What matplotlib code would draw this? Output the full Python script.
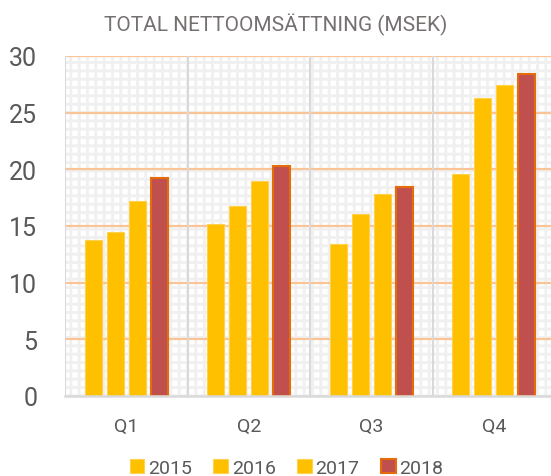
import matplotlib
matplotlib.use("Agg")
import matplotlib.pyplot as plt
import matplotlib.patches as patches
import numpy as np

quarters = ["Q1", "Q2", "Q3", "Q4"]
years = ["2015", "2016", "2017", "2018"]
sales_2015 = [13.8, 15.2, 13.4, 19.6]
sales_2016 = [14.5, 16.8, 16.1, 26.3]
sales_2017 = [17.2, 19.0, 17.8, 27.4]
sales_2018 = [19.2, 20.3, 18.4, 28.4]

plt.rcParams['font.family'] = ['Roboto', 'DejaVu Sans']
plt.rcParams['hatch.linewidth'] = 2.0
plt.rcParams['hatch.color'] = '#f0f0f0'

fig = plt.figure(figsize=(5.51, 4.77), dpi=100)
ax = fig.add_axes([65 / 551, 80 / 477, 490 / 551, 340 / 477])

# patterned plot background (large grid)
bg = patches.Rectangle((0, 0), 1, 1, transform=ax.transAxes, facecolor='white',
                       edgecolor='#f0f0f0', hatch='++', lw=0, zorder=0)
ax.add_patch(bg)

x = np.arange(len(quarters))
width = 0.139
pitch = 0.18
series = [sales_2015, sales_2016, sales_2017, sales_2018]
faces = ['#FFC000', '#FFC000', '#FFC000', '#C0504D']
edges = ['#FFD24D', '#FFD24D', '#FFD24D', '#E46C0A']
lws = [0.8, 0.8, 0.8, 1.5]
for i, (vals, yr) in enumerate(zip(series, years)):
    ax.bar(x + (i - 1.5) * pitch, vals, width, color=faces[i], edgecolor=edges[i],
           linewidth=lws[i], label=yr, zorder=3)

ax.set_xlim(-0.5, 3.5)
ax.set_ylim(0, 30)
ax.set_yticks(range(0, 31, 5))
for yv in range(5, 31, 5):
    ax.axhline(yv, color='#FBC497', lw=1.6, zorder=2)
for xv in np.arange(-0.5, 4, 1):
    ax.axvline(xv, color='#d9d9d9', lw=1.5, zorder=2)

for s in ['top', 'right', 'left']:
    ax.spines[s].set_visible(False)
ax.spines['bottom'].set_color('#d9d9d9')
ax.spines['bottom'].set_linewidth(1.8)
ax.spines['bottom'].set_zorder(4)

ax.set_xticks(x)
ax.set_xticklabels(quarters)
ax.tick_params(axis='x', length=0, labelsize=14, labelcolor='#595959', pad=15)
ax.tick_params(axis='y', length=0, labelsize=18, labelcolor='#595959', pad=20)

fig.text(0.5, 0.948, "TOTAL NETTOOMSÄTTNING (MSEK)", ha='center', va='center',
         fontsize=15, color='#767171')

leg = fig.legend(loc='center', bbox_to_anchor=(0.52, 0.017), ncol=4, frameon=False,
                 fontsize=14, handlelength=0.75, handleheight=0.75, handletextpad=0.2,
                 columnspacing=1.1, labelcolor='#595959')

fig.savefig("out.png", dpi=100)
